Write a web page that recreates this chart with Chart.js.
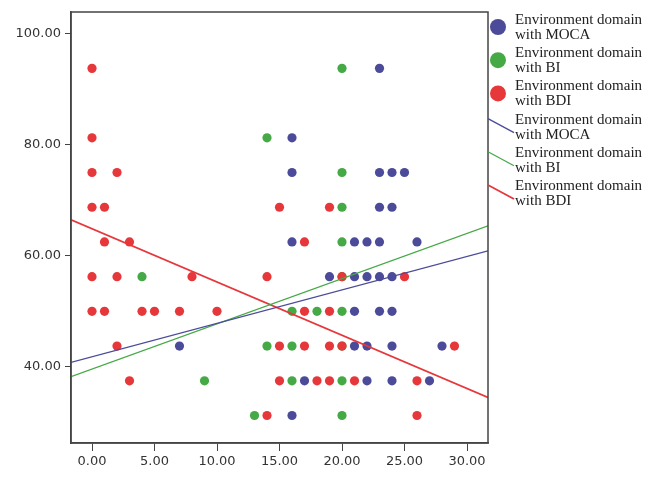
<!DOCTYPE html>
<html>
<head>
<meta charset="utf-8">
<script src="https://cdn.jsdelivr.net/npm/chart.js@4"></script>
<style>
  html, body { margin: 0; padding: 0; background: #fff; }
  canvas { display: block; }
</style>
</head>
<body>
<canvas id="grafica" width="649" height="487"></canvas>
<script>
// niveles del dominio ambiental (eje Y)
const nivelesY = [93.75, 81.25, 75, 68.75, 62.5, 56.25, 50, 43.75, 37.5, 31.25];

// valores X por cada nivel de Y (mismo orden que nivelesY)
const xMoca = [[23], [16], [16, 23, 24, 25], [23, 24], [16, 21, 22, 23, 26],
    [19, 21, 22, 23, 24], [21, 23, 24], [7, 21, 22, 24, 28], [17, 22, 24, 27], [16]];
const xBi = [[20], [14], [20], [20], [20],
    [4, 20], [16, 18, 20], [14, 16, 20], [9, 16, 20], [13, 20]];
const xBdi = [[0], [0], [0, 2], [0, 1, 15, 19], [1, 3, 17],
    [0, 2, 8, 14, 20, 25], [0, 1, 4, 5, 7, 10, 17, 19], [2, 15, 17, 19, 20, 29],
    [3, 15, 18, 19, 21, 26], [14, 26]];

// rectas de ajuste: extremos [xIzq, xDer] y [yIzq, yDer]
const extremosX = [-1.68, 31.68];
const rectaMoca = [40.8, 60.9];
const rectaBi = [38.25, 65.4];
const rectaBdi = [66.5, 34.5];

const ticksX = [0, 5, 10, 15, 20, 25, 30];
const ticksY = [40, 60, 80, 100];

const etiquetas = ['Environment domain with MOCA', 'Environment domain with BI', 'Environment domain with BDI'];
const colores = ['#4b4b9a', '#45a945', '#e6373b'];

function puntos(listaX) {
    const res = [];
    listaX.forEach((fila, i) => fila.forEach(x => res.push({ x: x, y: nivelesY[i] })));
    return res;
}

function recta(ys) {
    return extremosX.map((x, i) => ({ x: x, y: ys[i] }));
}

const marco = {
    id: 'marco',
    afterDatasetsDraw(chart) {
        const { ctx, chartArea: a } = chart;
        ctx.save();
        ctx.strokeStyle = '#444';
        ctx.lineWidth = 1.5;
        ctx.strokeRect(a.left, a.top, a.right - a.left, a.bottom - a.top);
        ctx.restore();
    }
};

const leyenda = {
    id: 'leyenda',
    afterDraw(chart) {
        const ctx = chart.ctx;
        const textoX = 515;
        ctx.save();
        ctx.font = '15px "Liberation Serif", "Times New Roman", serif';
        ctx.fillStyle = '#222';
        ctx.textBaseline = 'middle';
        for (let k = 0; k < 6; k++) {
            const y1 = 20 + k * 33.2;
            const y2 = y1 + 15;
            const i = k % 3;
            const partes = etiquetas[i].split(' with ');
            ctx.fillText(partes[0], textoX, y1);
            ctx.fillText('with ' + partes[1], textoX, y2);
            if (k < 3) {
                ctx.beginPath();
                ctx.fillStyle = colores[i];
                ctx.arc(498, y1 + 7, 8, 0, Math.PI * 2);
                ctx.fill();
                ctx.fillStyle = '#222';
            } else {
                ctx.beginPath();
                ctx.strokeStyle = colores[i];
                ctx.lineWidth = i === 2 ? 1.8 : 1.3;
                ctx.moveTo(488, y1 - 1);
                ctx.lineTo(514, y2 - 2);
                ctx.stroke();
            }
        }
        ctx.restore();
    }
};

const fuenteTicks = { family: '"DejaVu Sans", sans-serif', size: 13 };

new Chart(document.getElementById('grafica').getContext('2d'), {
    type: 'scatter',
    data: {
        datasets: [
            { label: etiquetas[0], data: puntos(xMoca), backgroundColor: colores[0], borderWidth: 0, pointRadius: 4.6, order: 3 },
            { label: etiquetas[1], data: puntos(xBi), backgroundColor: colores[1], borderWidth: 0, pointRadius: 4.6, order: 2 },
            { label: etiquetas[2], data: puntos(xBdi), backgroundColor: colores[2], borderWidth: 0, pointRadius: 4.6, order: 1 },
            { label: etiquetas[0], data: recta(rectaMoca), showLine: true, borderColor: colores[0], borderWidth: 1.3, pointRadius: 0, order: 0 },
            { label: etiquetas[1], data: recta(rectaBi), showLine: true, borderColor: colores[1], borderWidth: 1.3, pointRadius: 0, order: 0 },
            { label: etiquetas[2], data: recta(rectaBdi), showLine: true, borderColor: colores[2], borderWidth: 1.8, pointRadius: 0, order: 0 }
        ]
    },
    options: {
        responsive: false,
        animation: false,
        devicePixelRatio: 1,
        layout: { padding: { left: 0, right: 161, top: 12, bottom: 0 } },
        plugins: { legend: { display: false }, tooltip: { enabled: false } },
        scales: {
            x: {
                type: 'linear',
                min: extremosX[0],
                max: extremosX[1],
                afterBuildTicks: s => { s.ticks = ticksX.map(v => ({ value: v })); },
                afterFit: s => { s.height = 44; },
                ticks: { callback: v => v.toFixed(2), color: '#333', font: fuenteTicks, padding: 3, maxRotation: 0 },
                grid: { drawOnChartArea: false, drawTicks: true, tickLength: 8, color: '#444' },
                border: { display: true, color: '#444', width: 1.5 }
            },
            y: {
                type: 'linear',
                min: 26.3,
                max: 103.9,
                afterBuildTicks: s => { s.ticks = ticksY.map(v => ({ value: v })); },
                afterFit: s => { s.width = 71; },
                ticks: { callback: v => v.toFixed(2), color: '#333', font: fuenteTicks, padding: 4 },
                grid: { drawOnChartArea: false, drawTicks: true, tickLength: 6, color: '#444' },
                border: { display: true, color: '#444', width: 1.5 }
            }
        }
    },
    plugins: [marco, leyenda]
});
</script>
</body>
</html>
